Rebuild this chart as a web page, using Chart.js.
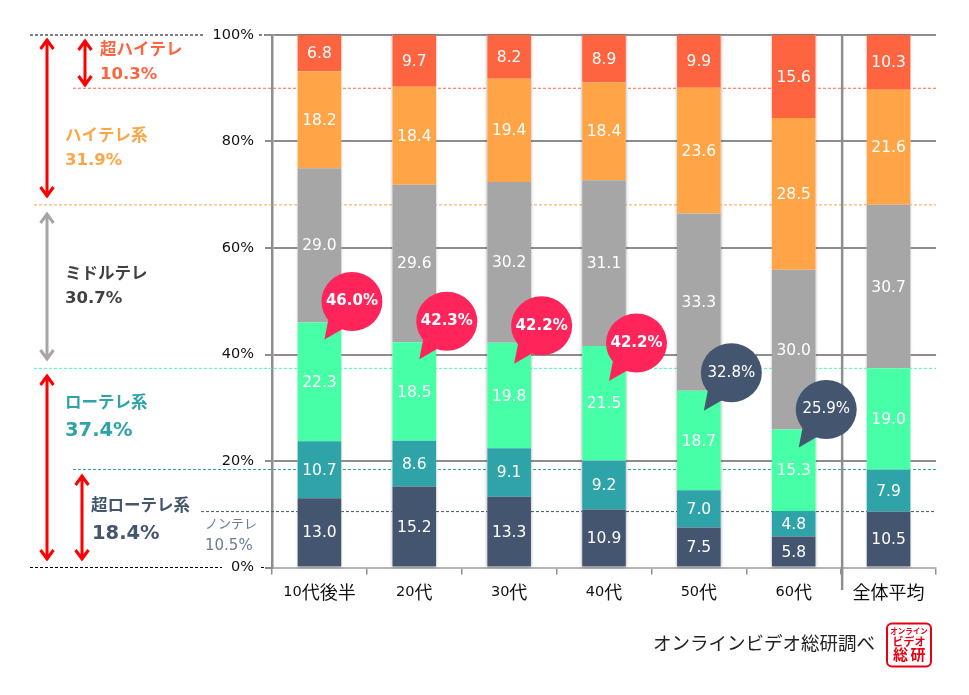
<!DOCTYPE html>
<html>
<head>
<meta charset="utf-8">
<style>
  html, body { margin: 0; padding: 0; background: #fff; }
  canvas { display: block; }
</style>
<script src="https://cdn.jsdelivr.net/npm/chart.js@4/dist/chart.umd.min.js"></script>
</head>
<body>
<canvas id="myChart" width="969" height="695"></canvas>
<script>
const categories = ['10代後半', '20代', '30代', '40代', '50代', '60代', '全体平均'];

const nonTele = [13.0, 15.2, 13.3, 10.9, 7.5, 5.8, 10.5];
const superLow = [10.7, 8.6, 9.1, 9.2, 7.0, 4.8, 7.9];
const lowTele = [22.3, 18.5, 19.8, 21.5, 18.7, 15.3, 19.0];
const midTele = [29.0, 29.6, 30.2, 31.1, 33.3, 30.0, 30.7];
const highTele = [18.2, 18.4, 19.4, 18.4, 23.6, 28.5, 21.6];
const superHigh = [6.8, 9.7, 8.2, 8.9, 9.9, 15.6, 10.3];

const bubbleLabels = ['46.0%', '42.3%', '42.2%', '42.2%', '32.8%', '25.9%'];
const yTicks = [0, 20, 40, 60, 80, 100];

const NAVY = '#44566f', TEAL = '#2ea3a8', GREEN = '#46ffa6', GRAY = '#a6a6a6', ORANGE = '#ffa548', RED = '#ff6440';
const AXIS = '#8e8e8e';
const LATIN = '"DejaVu Sans", "Noto Sans CJK JP", sans-serif';
const CJK = '"Noto Sans CJK JP", sans-serif';

// how far below the top of the green block each bubble tip sits
const bubbleDrop = [17, 17, 21, 35, 20, 18];
const bubbleColors = ['#ff2459', '#ff2459', '#ff2459', '#ff2459', NAVY, NAVY];

function hDash(ctx, y, x1, x2, color) {
    ctx.save();
    ctx.strokeStyle = color;
    ctx.lineWidth = 1;
    ctx.setLineDash([3, 2]);
    ctx.beginPath();
    ctx.moveTo(x1, y);
    ctx.lineTo(x2, y);
    ctx.stroke();
    ctx.restore();
}

function arrow(ctx, x, y1, y2, color) {
    ctx.save();
    ctx.strokeStyle = color;
    ctx.lineWidth = 3;
    ctx.beginPath();
    ctx.moveTo(x, y1 + 1);
    ctx.lineTo(x, y2 - 1);
    ctx.moveTo(x - 6.5, y1 + 11);
    ctx.lineTo(x, y1 + 2);
    ctx.lineTo(x + 6.5, y1 + 11);
    ctx.moveTo(x - 6.5, y2 - 11);
    ctx.lineTo(x, y2 - 2);
    ctx.lineTo(x + 6.5, y2 - 11);
    ctx.stroke();
    ctx.restore();
}

function text(ctx, str, x, y, font, color, align) {
    ctx.font = font;
    ctx.fillStyle = color;
    ctx.textAlign = align || 'left';
    ctx.textBaseline = 'middle';
    ctx.fillText(str, x, y);
}

// category labels use small digits next to wide kanji
function categoryLabel(ctx, str, cx, y) {
    const runs = str.match(/[0-9]+|[^0-9]+/g).map(r => ({
        str: r,
        font: /[0-9]/.test(r) ? '14.5px ' + LATIN : '18px ' + CJK
    }));
    let width = 0;
    runs.forEach(r => {
        ctx.font = r.font;
        r.w = ctx.measureText(r.str).width;
        width += r.w;
    });
    let x = cx - width / 2;
    runs.forEach(r => {
        text(ctx, r.str, x, y, r.font, '#111');
        x += r.w;
    });
}

const refLines = {
    id: 'refLines',
    beforeDatasetsDraw(chart) {
        const ctx = chart.ctx, y = chart.scales.y, right = chart.chartArea.right;
        hDash(ctx, y.getPixelForValue(100), 30, 205, '#000');
        hDash(ctx, y.getPixelForValue(100), 259, 265, '#000');
        hDash(ctx, y.getPixelForValue(0), 30, 222, '#000');
        hDash(ctx, y.getPixelForValue(0), 261, 265, '#000');
        hDash(ctx, y.getPixelForValue(90), 73, right, RED);
        hDash(ctx, y.getPixelForValue(68.1), 34, right, ORANGE);
        hDash(ctx, y.getPixelForValue(37.4), 34, right, GREEN);
        hDash(ctx, y.getPixelForValue(18.4), 73, right, TEAL);
        hDash(ctx, y.getPixelForValue(10.5), 201, right, NAVY);

        // divider before the overall average
        const x = chart.scales.x;
        const sep = (x.getPixelForValue(5) + x.getPixelForValue(6)) / 2 + 1;
        ctx.save();
        ctx.strokeStyle = AXIS;
        ctx.lineWidth = 2.5;
        ctx.beginPath();
        ctx.moveTo(sep, y.getPixelForValue(100));
        ctx.lineTo(sep, 590);
        ctx.stroke();
        ctx.restore();

        // soft edge around each whole stack, so the seams stay clean
        const bottom = chart.getDatasetMeta(0).data;
        const top = chart.getDatasetMeta(chart.data.datasets.length - 1).data;
        ctx.save();
        ctx.shadowColor = 'rgba(0,0,0,0.35)';
        ctx.shadowBlur = 3;
        ctx.fillStyle = '#fff';
        bottom.forEach((bar, i) => {
            ctx.fillRect(bar.x - bar.width / 2, top[i].y, bar.width, bar.base - top[i].y);
        });
        ctx.restore();
    },
    afterDatasetsDraw(chart) {
        const ctx = chart.ctx;

        // values inside the bars
        chart.data.datasets.forEach((ds, i) => {
            chart.getDatasetMeta(i).data.forEach((bar, j) => {
                const c = bar.getCenterPoint();
                text(ctx, ds.data[j].toFixed(1), c.x, c.y + 1, '15.5px ' + LATIN, '#fff', 'center');
            });
        });

        // category names under the axis
        categories.forEach((name, i) => {
            categoryLabel(ctx, name, chart.scales.x.getPixelForValue(i), 592);
        });

        // speech bubbles, tips hang off the green block
        const greenMeta = chart.getDatasetMeta(2);
        bubbleLabels.forEach((label, i) => {
            const bar = greenMeta.data[i];
            const tipX = bar.x + 5, tipY = bar.y + bubbleDrop[i];
            const cx = tipX + 27.5, cy = tipY - 38;
            ctx.fillStyle = bubbleColors[i];
            ctx.beginPath();
            ctx.ellipse(cx, cy, 30.5, 29.5, 0, 0, Math.PI * 2);
            ctx.fill();
            ctx.beginPath();
            ctx.moveTo(tipX, tipY);
            ctx.lineTo(cx - 22, cy + 10);
            ctx.lineTo(cx - 5, cy + 25);
            ctx.closePath();
            ctx.fill();
            const bold = i < 4;
            text(ctx, label, cx, cy, (bold ? 'bold ' : '') + '15px ' + LATIN, '#fff', 'center');
        });

        // left side brackets and captions
        arrow(ctx, 47, 38, 198, '#ff0000');
        arrow(ctx, 47, 212, 361, GRAY);
        arrow(ctx, 47, 374, 561, '#ff0000');
        arrow(ctx, 85, 39, 87, '#ff0000');
        arrow(ctx, 82, 474, 561, '#ff0000');

        const j = 'bold 16.5px ' + LATIN;
        text(ctx, '超ハイテレ', 100, 51, j, RED);
        text(ctx, '10.3%', 100, 75, j, RED);
        text(ctx, 'ハイテレ系', 65, 137, j, ORANGE);
        text(ctx, '31.9%', 65, 161, j, ORANGE);
        text(ctx, 'ミドルテレ', 65, 275, j, '#404040');
        text(ctx, '30.7%', 65, 299, j, '#404040');
        text(ctx, 'ローテレ系', 65, 404, j, TEAL);
        text(ctx, '37.4%', 65, 431, 'bold 19.5px ' + LATIN, TEAL);
        text(ctx, '超ローテレ系', 91, 507, j, NAVY);
        text(ctx, '18.4%', 92, 534, 'bold 19.5px ' + LATIN, NAVY);
        text(ctx, 'ノンテレ', 205, 525, '13px ' + LATIN, '#6d7d94');
        text(ctx, '10.5%', 205, 546, '15px ' + LATIN, '#6d7d94');

        // source line and stamp
        text(ctx, 'オンラインビデオ総研調べ', 653, 645, '18.5px ' + LATIN, '#222');
        ctx.fillStyle = '#fff';
        ctx.strokeStyle = '#e60012';
        ctx.lineWidth = 2;
        ctx.beginPath();
        ctx.roundRect(887, 623.5, 44, 43, 5);
        ctx.fill();
        ctx.stroke();
        text(ctx, 'オンライン', 909, 632.5, 'bold 7.5px ' + LATIN, '#e60012', 'center');
        text(ctx, 'ビデオ', 909, 643, 'bold 11px ' + LATIN, '#e60012', 'center');
        text(ctx, '総', 900.5, 656.5, 'bold 15px ' + LATIN, '#e60012', 'center');
        text(ctx, '研', 918, 656.5, 'bold 15px ' + LATIN, '#e60012', 'center');
    }
};

const seriesList = [
    ['ノンテレ', nonTele, NAVY],
    ['超ローテレ', superLow, TEAL],
    ['ローテレ', lowTele, GREEN],
    ['ミドルテレ', midTele, GRAY],
    ['ハイテレ', highTele, ORANGE],
    ['超ハイテレ', superHigh, RED]
];

new Chart(document.getElementById('myChart').getContext('2d'), {
    type: 'bar',
    data: {
        labels: categories,
        datasets: seriesList.map(s => ({
            label: s[0],
            data: s[1],
            backgroundColor: s[2],
            borderWidth: 0,
            categoryPercentage: 1,
            barPercentage: 0.46
        }))
    },
    options: {
        responsive: false,
        animation: false,
        devicePixelRatio: 1,
        layout: { padding: { top: 35, right: 33, left: 0, bottom: 0 } },
        plugins: { legend: { display: false }, tooltip: { enabled: false } },
        scales: {
            x: {
                stacked: true,
                afterFit(scale) { scale.height = 127.5; },
                grid: { drawOnChartArea: false, color: AXIS, tickLength: 7, lineWidth: 1.5 },
                border: { color: '#b5b5b5', width: 2 },
                ticks: { display: false }
            },
            y: {
                stacked: true,
                min: 0,
                max: 100,
                afterFit(scale) { scale.width = 272; },
                afterBuildTicks(scale) { scale.ticks = yTicks.map(v => ({ value: v })); },
                grid: { color: AXIS, lineWidth: 2, tickLength: 7 },
                border: { color: AXIS, width: 2.5 },
                ticks: {
                    padding: 11,
                    color: '#111',
                    font: { family: LATIN, size: 14.5 },
                    callback: v => v + '%'
                }
            }
        }
    },
    plugins: [refLines]
});
</script>
</body>
</html>
